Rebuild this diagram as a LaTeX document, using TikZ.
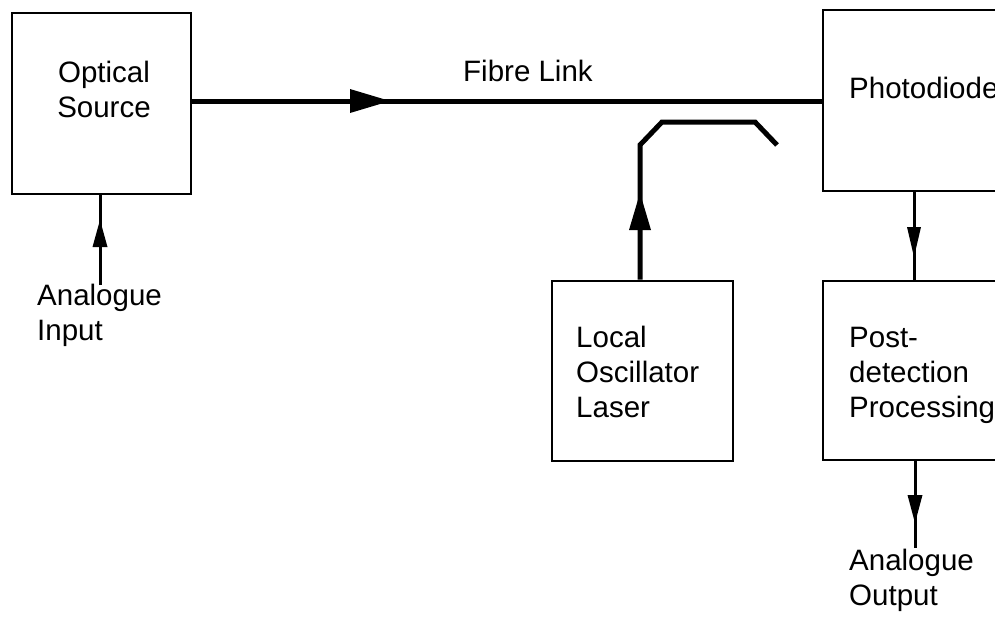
\documentclass[tikz,border=0pt]{standalone}
\usepackage{fontspec}
\setmainfont{Liberation Sans}
\begin{document}
\begin{tikzpicture}[x=1pt,y=-1pt,
  box/.style={draw,line width=2.8pt,rectangle,inner sep=0pt},
  lbl/.style={inner sep=0pt,anchor=base west,align=left,font=\fontsize{29.5}{35}\selectfont},
  thick line/.style={line width=5pt},
  thin line/.style={line width=3pt},
  head/.style={fill=black}]
\useasboundingbox (0,0) rectangle (995,616);
\clip (0,0) rectangle (995,616);
% boxes
\node[box,minimum width=179pt,minimum height=181pt] (os) at (101.5,103.5) {};
\node[box,minimum width=277pt,minimum height=181pt] (pd) at (961.5,100.5) {};
\node[box,minimum width=181pt,minimum height=180pt] (lo) at (642.5,371) {};
\node[box,minimum width=277pt,minimum height=179pt] (pp) at (961.5,370.5) {};
% texts
\node[inner sep=0pt,anchor=base,align=center,font=\fontsize{29.5}{35}\selectfont] (ost) at (104,117) {Optical\\Source};
\node[lbl] (fl) at (463,81) {Fibre Link};
\node[lbl] (pdt) at (849,98) {Photodiode};
\node[lbl] (lot) at (576,417) {Local\\Oscillator\\Laser};
\node[lbl] (ppt) at (849,417) {Post-\\detection\\Processing};
\node[lbl] (ain) at (37,340) {Analogue\\Input};
\node[lbl] (aout) at (849,605) {Analogue\\Output};
% coordinates
\coordinate (inend) at (100,285);
\coordinate (outend) at (915,548);
\coordinate (lo1) at (640,145);
\coordinate (lo2) at (662,122);
\coordinate (lo3) at (755,122);
\coordinate (lo4) at (777,145);
% fibre link
\draw[thick line] (os.east |- 0,101) -- (pd.west |- 0,101);
\fill[head] (390,101) -- (350,89) -- (350,113) -- cycle;
% analogue input
\draw[thin line] (inend) -- (inend |- os.south);
\fill[head] (100,220) -- (92.5,247) -- (107.5,247) -- cycle;
% local oscillator
\draw[thick line,line join=miter] (lo.north -| lo1) -- (lo1) -- (lo2) -- (lo3) -- (lo4);
\fill[head] (640,193) -- (629,230) -- (651,230) -- cycle;
% photodiode to post-detection
\draw[thin line] (pd.south -| 914,0) -- (pp.north -| 914,0);
\fill[head] (914,257) -- (907,227) -- (921,227) -- cycle;
% output
\draw[thin line] (pp.south -| outend) -- (outend);
\fill[head] (915,523) -- (907.5,495) -- (922.5,495) -- cycle;
\end{tikzpicture}
\end{document}
